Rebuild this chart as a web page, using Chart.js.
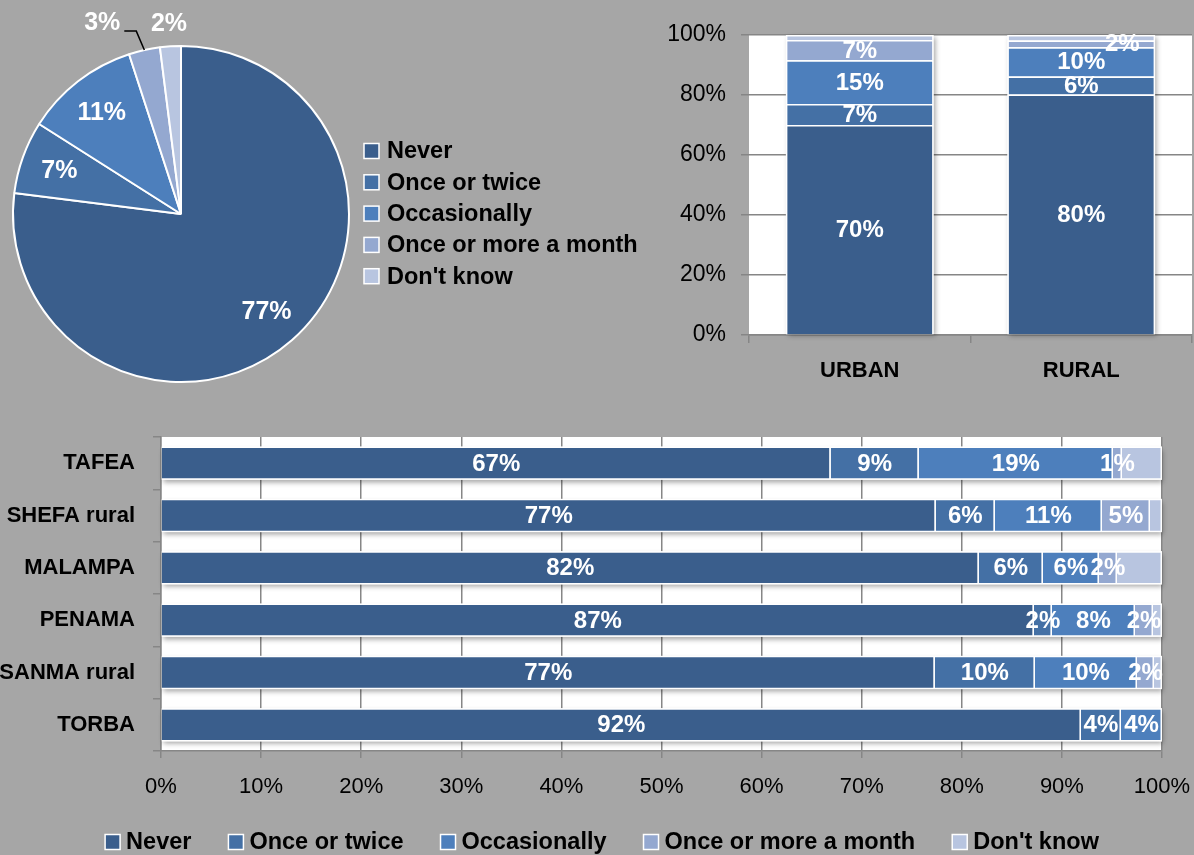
<!DOCTYPE html>
<html>
<head>
<meta charset="utf-8">
<title>Frequency of responses</title>
<script src="https://cdn.jsdelivr.net/npm/chart.js@4.4.1/dist/chart.umd.min.js"></script>
<style>
  html, body { margin: 0; padding: 0; background: #a6a6a6; }
  body { width: 1194px; height: 855px; position: relative; overflow: hidden; }
  canvas { position: absolute; }
  #pie { left: 0; top: 0; }
  #area { left: 640px; top: 0; }
  #prov { left: 0; top: 420px; }
</style>
</head>
<body>
<canvas id="pie" width="660" height="410"></canvas>
<canvas id="area" width="554" height="400"></canvas>
<canvas id="prov" width="1194" height="435"></canvas>
<script>
// ---- data ----
const responses = ['Never', 'Once or twice', 'Occasionally', 'Once or more a month', "Don't know"];

// overall shares (%)
const overallShares = [77, 7, 11, 3, 2];

// urban / rural split (%)
const areas = ['URBAN', 'RURAL'];
const neverArea = [70.0, 80.2];
const onceTwiceArea = [7.0, 6.0];
const occasionallyArea = [14.6, 9.7];
const monthlyArea = [6.7, 2.3];
const dontKnowArea = [1.7, 1.8];

// by province (%)
const provinces = ['TAFEA', 'SHEFA rural', 'MALAMPA', 'PENAMA', 'SANMA rural', 'TORBA'];
const neverProv = [66.9, 77.4, 81.7, 87.2, 77.3, 91.9];
const onceTwiceProv = [8.8, 5.9, 6.4, 1.8, 10.0, 4.0];
const occasionallyProv = [19.4, 10.7, 5.6, 8.3, 10.2, 4.1];
const monthlyProv = [0.9, 4.8, 1.8, 1.8, 1.7, 0];
const dontKnowProv = [4.0, 1.2, 4.5, 0.9, 0.8, 0];

// ---- styling ----
const palette = ['#3a5e8c', '#4470a5', '#4d7fbc', '#94a8d0', '#b8c5e0'];
const GRID = '#868686';
const FONT = 'Liberation Sans, Arial, sans-serif';
const pct = v => v + '%';

// white plot area behind the bars
const plotBackground = {
  id: 'plotBackground',
  beforeDraw(chart, args, o) {
    if (!o || !o.color) return;
    const { ctx, chartArea: ca } = chart;
    ctx.save();
    ctx.fillStyle = o.color;
    ctx.fillRect(ca.left, ca.top, ca.width, ca.height);
    ctx.restore();
  }
};

// soft drop shadow under each full stacked bar
const stackShadow = {
  id: 'stackShadow',
  beforeDatasetsDraw(chart, args, o) {
    if (!o || !o.color) return;
    const ctx = chart.ctx;
    const metas = chart.data.datasets.map((d, i) => chart.getDatasetMeta(i));
    ctx.save();
    ctx.shadowColor = o.color;
    ctx.shadowBlur = o.blur;
    ctx.shadowOffsetX = o.dx;
    ctx.shadowOffsetY = o.dy;
    ctx.fillStyle = '#ffffff';
    chart.data.labels.forEach((_, i) => {
      let l = Infinity, r = -Infinity, t = Infinity, b = -Infinity;
      metas.forEach(m => {
        const el = m.data[i];
        if (!el) return;
        const p = el.getProps(['x', 'y', 'base', 'width', 'height', 'horizontal'], true);
        if (p.horizontal) {
          l = Math.min(l, p.x, p.base); r = Math.max(r, p.x, p.base);
          t = Math.min(t, p.y - p.height / 2); b = Math.max(b, p.y + p.height / 2);
        } else {
          l = Math.min(l, p.x - p.width / 2); r = Math.max(r, p.x + p.width / 2);
          t = Math.min(t, p.y, p.base); b = Math.max(b, p.y, p.base);
        }
      });
      if (isFinite(l)) ctx.fillRect(l, t, r - l, b - t);
    });
    ctx.restore();
  }
};

// percentage labels inside bar segments
const segmentLabels = {
  id: 'segmentLabels',
  afterDatasetsDraw(chart, args, o) {
    if (!o || !o.font) return;
    const ctx = chart.ctx;
    ctx.save();
    ctx.font = o.font;
    ctx.fillStyle = '#ffffff';
    ctx.textAlign = 'center';
    ctx.textBaseline = 'middle';
    chart.data.datasets.forEach((ds, di) => {
      if ((o.skip || []).includes(di)) return;
      const meta = chart.getDatasetMeta(di);
      meta.data.forEach((bar, i) => {
        const v = ds.data[i];
        if (!v) return;
        const c = bar.getCenterPoint();
        const n = (o.nudge || {})[di + ':' + i] || [0, 0];
        ctx.fillText(Math.round(v) + '%', c.x + n[0], c.y + n[1] + 1);
      });
    });
    ctx.restore();
  }
};

// percentage labels on pie slices; thin slices get theirs outside
const sliceLabels = {
  id: 'sliceLabels',
  afterDatasetsDraw(chart, args, o) {
    if (!o || !o.font) return;
    const ctx = chart.ctx;
    const data = chart.data.datasets[0].data;
    const meta = chart.getDatasetMeta(0);
    ctx.save();
    ctx.font = o.font;
    ctx.textAlign = 'center';
    ctx.textBaseline = 'middle';
    meta.data.forEach((arc, i) => {
      const p = arc.getProps(['x', 'y', 'startAngle', 'endAngle', 'outerRadius'], true);
      const mid = (p.startAngle + p.endAngle) / 2;
      const outside = data[i] < o.outsideBelow;
      const rr = p.outerRadius * (outside ? o.outsideRadius : o.insideRadius);
      let lx = p.x + Math.cos(mid) * rr;
      let ly = p.y + Math.sin(mid) * rr;
      const shift = (o.shift || {})[i];
      const text = data[i] + '%';
      if (shift) {
        lx += shift[0];
        ly += shift[1];
        // leader line from the slice edge to the moved label
        const ex = p.x + Math.cos(mid) * p.outerRadius;
        const ey = p.y + Math.sin(mid) * p.outerRadius;
        const tw = ctx.measureText(text).width;
        const endX = lx + tw / 2 + 4;
        const lineY = ly + 9;
        ctx.strokeStyle = '#000000';
        ctx.lineWidth = 1.5;
        ctx.beginPath();
        ctx.moveTo(ex, ey);
        ctx.lineTo(endX + 12, lineY);
        ctx.lineTo(endX, lineY);
        ctx.stroke();
      }
      ctx.fillStyle = '#ffffff';
      ctx.fillText(text, lx, ly + 1);
    });
    ctx.restore();
  }
};

// response key, drawn as a column or a centred row
const keyLegend = {
  id: 'keyLegend',
  afterDraw(chart, args, o) {
    if (!o || !o.labels) return;
    const ctx = chart.ctx;
    ctx.save();
    ctx.font = o.font;
    ctx.textBaseline = 'middle';
    ctx.textAlign = 'left';
    const box = o.box, tg = o.textGap;
    const widths = o.labels.map(t => ctx.measureText(t).width);
    const drawItem = (k, x, y) => {
      ctx.fillStyle = o.colors[k];
      ctx.fillRect(x, y - box / 2, box, box);
      ctx.strokeStyle = '#ffffff';
      ctx.lineWidth = 1.5;
      ctx.strokeRect(x, y - box / 2, box, box);
      ctx.fillStyle = '#000000';
      ctx.fillText(o.labels[k], x + box + tg, y + 1);
    };
    if (o.layout === 'column') {
      o.labels.forEach((t, k) => drawItem(k, o.x, o.y + k * o.rowGap));
    } else {
      const total = widths.reduce((s, w) => s + w + box + tg, 0) + o.itemGap * (o.labels.length - 1);
      let x = o.cx - total / 2;
      o.labels.forEach((t, k) => {
        drawItem(k, x, o.y);
        x += box + tg + widths[k] + o.itemGap;
      });
    }
    ctx.restore();
  }
};

Chart.register(plotBackground, stackShadow, segmentLabels, sliceLabels, keyLegend);

// ---- overall pie ----
new Chart(document.getElementById('pie'), {
  type: 'pie',
  data: {
    labels: responses,
    datasets: [{
      data: overallShares,
      backgroundColor: palette,
      borderColor: '#ffffff',
      borderWidth: 2
    }]
  },
  options: {
    responsive: false,
    animation: false,
    layout: { padding: { left: 12, right: 310, top: 45, bottom: 27 } },
    plugins: {
      legend: { display: false },
      tooltip: { enabled: false },
      sliceLabels: {
        font: 'bold 25px ' + FONT,
        outsideBelow: 5,
        insideRadius: 0.77,
        outsideRadius: 1.14,
        shift: { 3: [-37, -5] }
      },
      keyLegend: {
        labels: responses,
        colors: palette,
        font: 'bold 23.5px ' + FONT,
        layout: 'column',
        x: 364, y: 151, rowGap: 31.3,
        box: 15, textGap: 8
      }
    }
  }
});

// ---- urban / rural stacked columns ----
const areaSeries = [neverArea, onceTwiceArea, occasionallyArea, monthlyArea, dontKnowArea];
new Chart(document.getElementById('area'), {
  type: 'bar',
  data: {
    labels: areas,
    datasets: responses.map((r, k) => ({
      label: r,
      data: areaSeries[k],
      backgroundColor: palette[k],
      borderColor: '#ffffff',
      borderWidth: 1.5,
      barPercentage: 0.667,
      categoryPercentage: 1
    }))
  },
  options: {
    responsive: false,
    animation: false,
    layout: { padding: { left: 0, right: 2, top: 35, bottom: 0 } },
    plugins: {
      legend: { display: false },
      tooltip: { enabled: false },
      plotBackground: { color: '#ffffff' },
      stackShadow: { color: 'rgba(0,0,0,0.35)', blur: 5, dx: 2, dy: 2 },
      segmentLabels: { font: 'bold 24px ' + FONT, skip: [4], nudge: { '3:1': [41, 0] } }
    },
    scales: {
      x: {
        stacked: true,
        grid: { offset: true, drawOnChartArea: false, drawTicks: true, tickLength: 8, color: GRID, lineWidth: 1.5 },
        border: { color: GRID, width: 1.5 },
        ticks: { font: { family: FONT, size: 22, weight: 'bold' }, color: '#000', padding: 15 },
        afterFit(s) { s.height = 65; }
      },
      y: {
        stacked: true,
        min: 0, max: 100,
        ticks: { stepSize: 20, callback: pct, font: { family: FONT, size: 23 }, color: '#000', padding: 15 },
        grid: { color: GRID, lineWidth: 1.5, tickLength: 8 },
        border: { display: false },
        afterFit(s) { s.width = 109; }
      }
    }
  }
});

// ---- by province stacked bars ----
const provSeries = [neverProv, onceTwiceProv, occasionallyProv, monthlyProv, dontKnowProv];
new Chart(document.getElementById('prov'), {
  type: 'bar',
  data: {
    labels: provinces,
    datasets: responses.map((r, k) => ({
      label: r,
      data: provSeries[k],
      backgroundColor: palette[k],
      borderColor: '#ffffff',
      borderWidth: 1.5,
      barPercentage: 0.636,
      categoryPercentage: 1
    }))
  },
  options: {
    indexAxis: 'y',
    responsive: false,
    animation: false,
    layout: { padding: { left: 0, right: 32, top: 17, bottom: 0 } },
    plugins: {
      legend: { display: false },
      tooltip: { enabled: false },
      plotBackground: { color: '#ffffff' },
      stackShadow: { color: 'rgba(0,0,0,0.35)', blur: 5, dx: 1, dy: 3 },
      segmentLabels: { font: 'bold 24px ' + FONT, skip: [4] },
      keyLegend: {
        labels: responses,
        colors: palette,
        font: 'bold 23.5px ' + FONT,
        layout: 'row',
        cx: 602, y: 422,
        box: 15, textGap: 6, itemGap: 37
      }
    },
    scales: {
      x: {
        stacked: true,
        min: 0, max: 100,
        ticks: { stepSize: 10, callback: pct, font: { family: FONT, size: 22 }, color: '#000', padding: 16 },
        grid: { color: GRID, lineWidth: 1.5, tickLength: 7 },
        border: { color: GRID, width: 1.5 },
        // the plot margins come from layout.padding alone
        afterFit(s) { s.height = 104; s.paddingLeft = 0; s.paddingRight = 0; }
      },
      y: {
        stacked: true,
        grid: { offset: true, drawOnChartArea: false, tickLength: 8, color: GRID, lineWidth: 1.5 },
        border: { color: GRID, width: 1.5 },
        ticks: { font: { family: FONT, size: 22, weight: 'bold' }, color: '#000', padding: 18 },
        afterFit(s) { s.width = 161; s.paddingTop = 0; s.paddingBottom = 0; }
      }
    }
  }
});
</script>
</body>
</html>
